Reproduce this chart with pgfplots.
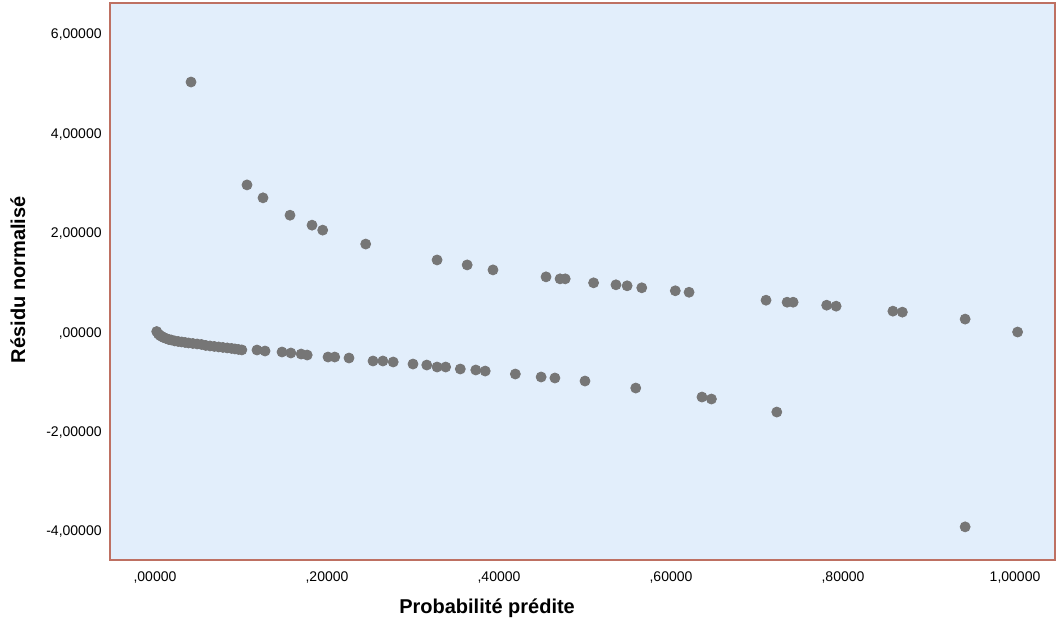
\documentclass[border=0pt]{standalone}
\usepackage{fontspec}
\setmainfont{Liberation Sans}
\usepackage{pgfplots}
\pgfplotsset{compat=1.18}

\definecolor{bgblue}{RGB}{226,238,251}
\definecolor{frame}{RGB}{190,112,98}
\definecolor{dotgrey}{RGB}{118,118,118}

\begin{document}
\begin{tikzpicture}
  \path[use as bounding box] (-55pt,-33.5pt) rectangle (474pt,280pt);
  \begin{axis}[
      at={(0,0)}, anchor=south west,
      scale only axis,
      width=472.5pt, height=278.5pt,
      xmin=-0.0523, xmax=1.0465,
      ymin=-4.567, ymax=6.64,
      axis background/.style={fill=bgblue},
      axis line style={draw=frame, line width=0.8pt},
      major tick length=0pt,
      xtick={0,0.2,0.4,0.6,0.8,1},
      xticklabels={{,00000},{,20000},{,40000},{,60000},{,80000},{1,00000}},
      ytick={-4,-2,0,2,4,6},
      yticklabels={{-4,00000},{-2,00000},{,00000},{2,00000},{4,00000},{6,00000}},
      tick label style={font=\fontsize{7}{8}\selectfont, inner sep=0pt},
      xticklabel style={anchor=center, yshift=-9pt},
      yticklabel style={anchor=east, xshift=-4pt},
      xlabel={Probabilité prédite},
      ylabel={Résidu normalisé},
      label style={font=\fontsize{10}{12}\selectfont\bfseries},
      xlabel style={at={(axis description cs:0.399,-0.0862)}, anchor=center},
      ylabel style={at={(axis description cs:-0.0974,0.503)}, anchor=center},
      clip=false,
    ]
    % residus negatifs (y = 0)
    \addplot[only marks, mark=*, mark size=2.5pt, color=dotgrey] coordinates {
      (0.002,0.03) (0.004,-0.02) (0.006,-0.05) (0.008,-0.07) (0.010,-0.09)
      (0.013,-0.11) (0.016,-0.13) (0.019,-0.14) (0.023,-0.16) (0.027,-0.17)
      (0.031,-0.18) (0.035,-0.19) (0.039,-0.20) (0.044,-0.21) (0.049,-0.22)
      (0.054,-0.23) (0.059,-0.25) (0.064,-0.26) (0.069,-0.27) (0.074,-0.28)
      (0.079,-0.29) (0.084,-0.30) (0.089,-0.31) (0.093,-0.32) (0.097,-0.33)
      (0.101,-0.34)
      (0.1186,-0.342) (0.128,-0.362) (0.1477,-0.382) (0.158,-0.402)
      (0.170,-0.423) (0.177,-0.443) (0.2012,-0.483) (0.209,-0.483)
      (0.2256,-0.503) (0.2535,-0.563) (0.265,-0.563) (0.277,-0.583)
      (0.300,-0.624) (0.316,-0.644) (0.328,-0.684) (0.338,-0.684)
      (0.355,-0.724) (0.373,-0.744) (0.384,-0.765) (0.419,-0.825)
      (0.449,-0.885) (0.465,-0.905) (0.500,-0.966) (0.559,-1.107)
      (0.636,-1.288) (0.647,-1.328) (0.723,-1.590) (0.942,-3.90)
    };
    % residus positifs (y = 1)
    \addplot[only marks, mark=*, mark size=2.5pt, color=dotgrey] coordinates {
      (0.0419,5.05) (0.107,2.98) (0.1256,2.72) (0.157,2.37) (0.1826,2.17)
      (0.195,2.07) (0.245,1.79) (0.328,1.47) (0.363,1.37) (0.393,1.27)
      (0.4547,1.13) (0.471,1.09) (0.477,1.09) (0.510,1.01) (0.536,0.97)
      (0.549,0.95) (0.566,0.91) (0.605,0.85) (0.621,0.82) (0.7105,0.66)
      (0.735,0.62) (0.742,0.62) (0.781,0.56) (0.792,0.54) (0.858,0.44)
      (0.869,0.42) (0.942,0.28) (1.003,0.02)
    };
  \end{axis}
\end{tikzpicture}
\end{document}
